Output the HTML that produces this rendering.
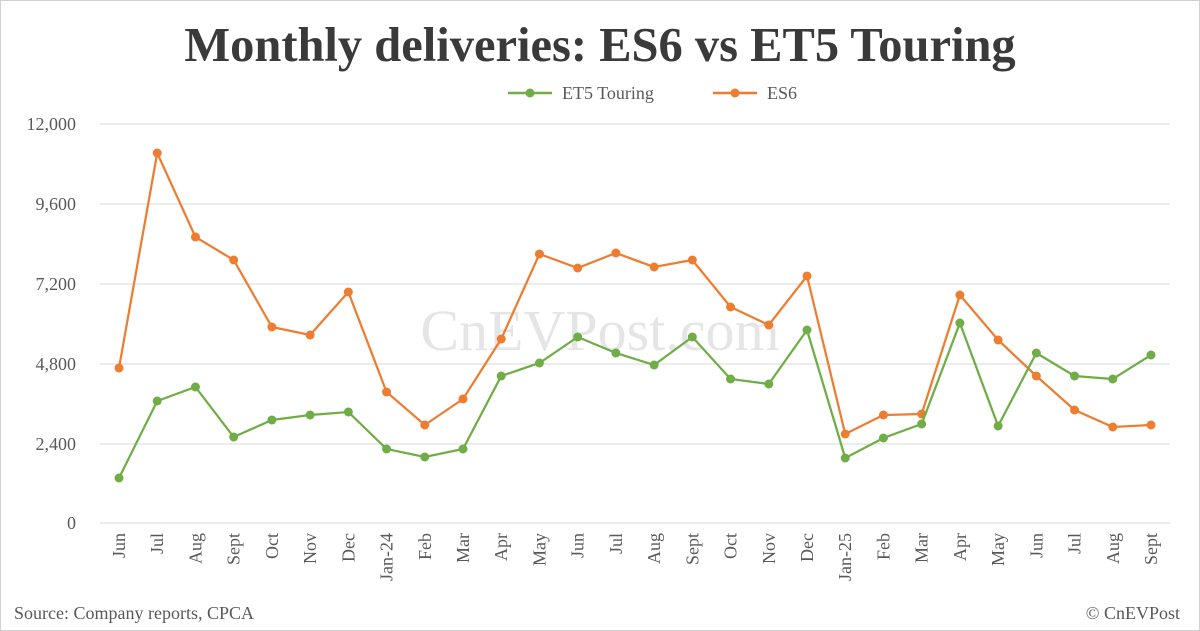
<!DOCTYPE html>
<html><head><meta charset="utf-8"><style>
html,body{margin:0;padding:0;background:#fff;}
svg{display:block;font-family:"Liberation Serif",serif;}
</style></head><body>
<svg width="1200" height="631" viewBox="0 0 1200 631" xmlns="http://www.w3.org/2000/svg">
<rect x="0.5" y="0.5" width="1199" height="630" fill="#fff" stroke="#d0d0d0"/>
<text x="600" y="61" text-anchor="middle" font-size="48.5" font-weight="bold" fill="#3a3a3a">Monthly deliveries: ES6 vs ET5 Touring</text>
<g font-size="18" fill="#595959">
<line x1="508" y1="93" x2="552" y2="93" stroke="#70ad47" stroke-width="2.5"/><circle cx="530" cy="93" r="4.5" fill="#70ad47"/>
<text x="562" y="99">ET5 Touring</text>
<line x1="713" y1="93" x2="757" y2="93" stroke="#ed7d31" stroke-width="2.5"/><circle cx="735" cy="93" r="4.5" fill="#ed7d31"/>
<text x="767" y="99">ES6</text>
</g>
<g stroke="#d9d9d9" stroke-width="1">
<line x1="100" y1="124" x2="1170" y2="124"/><line x1="100" y1="204" x2="1170" y2="204"/>
<line x1="100" y1="284" x2="1170" y2="284"/><line x1="100" y1="364" x2="1170" y2="364"/>
<line x1="100" y1="444" x2="1170" y2="444"/><line x1="100" y1="523" x2="1170" y2="523"/>
</g>
<g font-size="18" fill="#595959" text-anchor="end">
<text x="76" y="130">12,000</text><text x="76" y="210">9,600</text><text x="76" y="290">7,200</text>
<text x="76" y="370">4,800</text><text x="76" y="450">2,400</text><text x="76" y="529">0</text>
</g>
<text x="600" y="350" text-anchor="middle" font-size="58" fill="#000" fill-opacity="0.1">CnEVPost.com</text>
<g id="xl" font-size="18" fill="#595959" text-anchor="end"></g>
<g id="series"></g>
<text x="14" y="619" font-size="18" fill="#595959">Source: Company reports, CPCA</text>
<text x="1180" y="619" font-size="18" fill="#595959" text-anchor="end">© CnEVPost</text>
<script>
var labs=["Jun","Jul","Aug","Sept","Oct","Nov","Dec","Jan-24","Feb","Mar","Apr","May","Jun","Jul","Aug","Sept","Oct","Nov","Dec","Jan-25","Feb","Mar","Apr","May","Jun","Jul","Aug","Sept"];
var es6=[368,153,237,260,327,335,292,392,425,399,339,254,268,253,267,260,307,325,276,434,415,414,295,340,376,410,427,425];
var et5=[478,401,387,437,420,415,412,449,457,449,376,363,337,353,365,337,379,384,330,458,438,424,323,426,353,376,379,355];
var NS="http://www.w3.org/2000/svg";
function X(i){return 119+i*1032/27;}
var xl=document.getElementById("xl"),sg=document.getElementById("series");
labs.forEach(function(l,i){var t=document.createElementNS(NS,"text");var x=X(i)+6;t.setAttribute("x",x);t.setAttribute("y",533);t.setAttribute("transform","rotate(-90 "+x+" 533)");t.textContent=l;xl.appendChild(t);});
function draw(d,c){var p=document.createElementNS(NS,"polyline");p.setAttribute("points",d.map(function(y,i){return X(i)+","+y;}).join(" "));p.setAttribute("fill","none");p.setAttribute("stroke",c);p.setAttribute("stroke-width","2.25");sg.appendChild(p);
d.forEach(function(y,i){var ci=document.createElementNS(NS,"circle");ci.setAttribute("cx",X(i));ci.setAttribute("cy",y);ci.setAttribute("r",4.5);ci.setAttribute("fill",c);sg.appendChild(ci);});}
draw(es6,"#ed7d31");draw(et5,"#70ad47");
</script>
</svg>
</body></html>
